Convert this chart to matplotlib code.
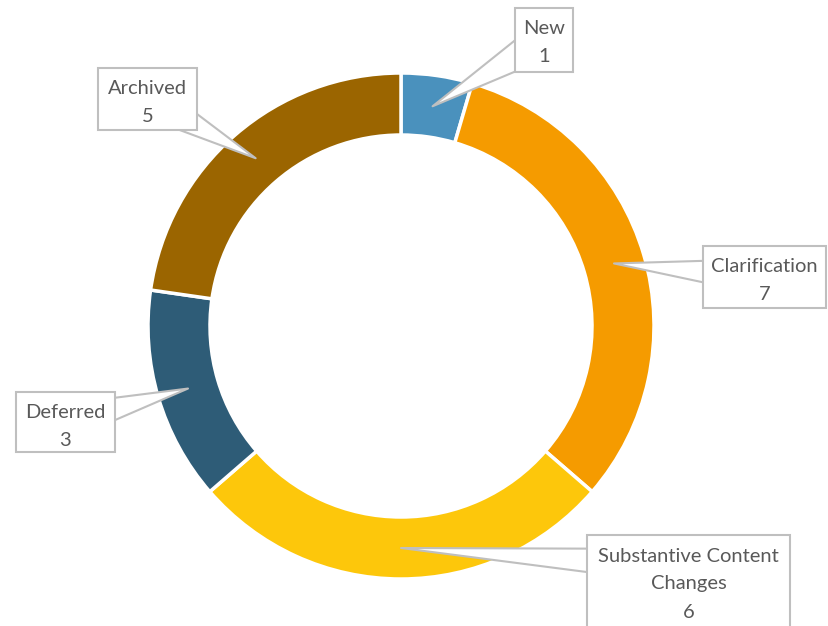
import numpy as np
import matplotlib
matplotlib.use("Agg")
import matplotlib.pyplot as plt
from matplotlib.patches import Rectangle

# data
categories = ["New", "Clarification", "Substantive Content\nChanges", "Deferred", "Archived"]
counts = [1, 7, 6, 3, 5]
colors = ["#4A91BD", "#F59B00", "#FDC70B", "#2E5C77", "#9B6500"]

# callout boxes (left, top, width, height) in pixels from top-left
boxes = [
    (515, 8, 58, 64),
    (703, 246, 123, 62),
    (587, 535, 203, 100),
    (16, 392, 99, 60),
    (98, 68, 99, 62),
]

W, H = 829, 626
fig = plt.figure(figsize=(W / 100, H / 100), dpi=100)
ax = fig.add_axes([0, 0, 1, 1])

cx, cy = 401, H - 326
r_out, r_in = 253, 191

ax.pie(counts, colors=colors, startangle=90, counterclock=False,
       center=(cx, cy), radius=r_out, frame=True,
       wedgeprops=dict(width=r_out - r_in, edgecolor="white", linewidth=2.5))
ax.set_xlim(0, W)
ax.set_ylim(0, H)
ax.set_aspect("equal")
ax.axis("off")

total = sum(counts)
cum = np.cumsum([0] + counts)
r_mid = (r_out + r_in) / 2
for i, (cat, val) in enumerate(zip(categories, counts)):
    ang = np.deg2rad(90 - (cum[i] + val / 2) / total * 360)
    tip = (cx + r_mid * np.cos(ang), cy + r_mid * np.sin(ang))
    left, top, bw, bh = boxes[i]
    bx = left + bw / 2
    by = H - top - min(bh, 64) / 2
    ax.annotate("", xy=tip, xytext=(bx, by), zorder=2,
                arrowprops=dict(arrowstyle="wedge,tail_width=2.6,shrink_factor=0.5",
                                fc="white", ec="#BFBFBF", lw=1.5,
                                shrinkA=0, shrinkB=0))
    ax.add_patch(Rectangle((left, H - top - bh), bw, bh, facecolor="white",
                           edgecolor="#BFBFBF", linewidth=1.5, zorder=3,
                           clip_on=False))
    lines = cat.split("\n") + [str(val)]
    for k, line in enumerate(lines):
        ax.text(bx, H - top - 21 - 28 * k, line, ha="center", va="center",
                fontsize=14.5, color="#595959", family="Lato", zorder=4)

fig.savefig("out.png", dpi=100)
